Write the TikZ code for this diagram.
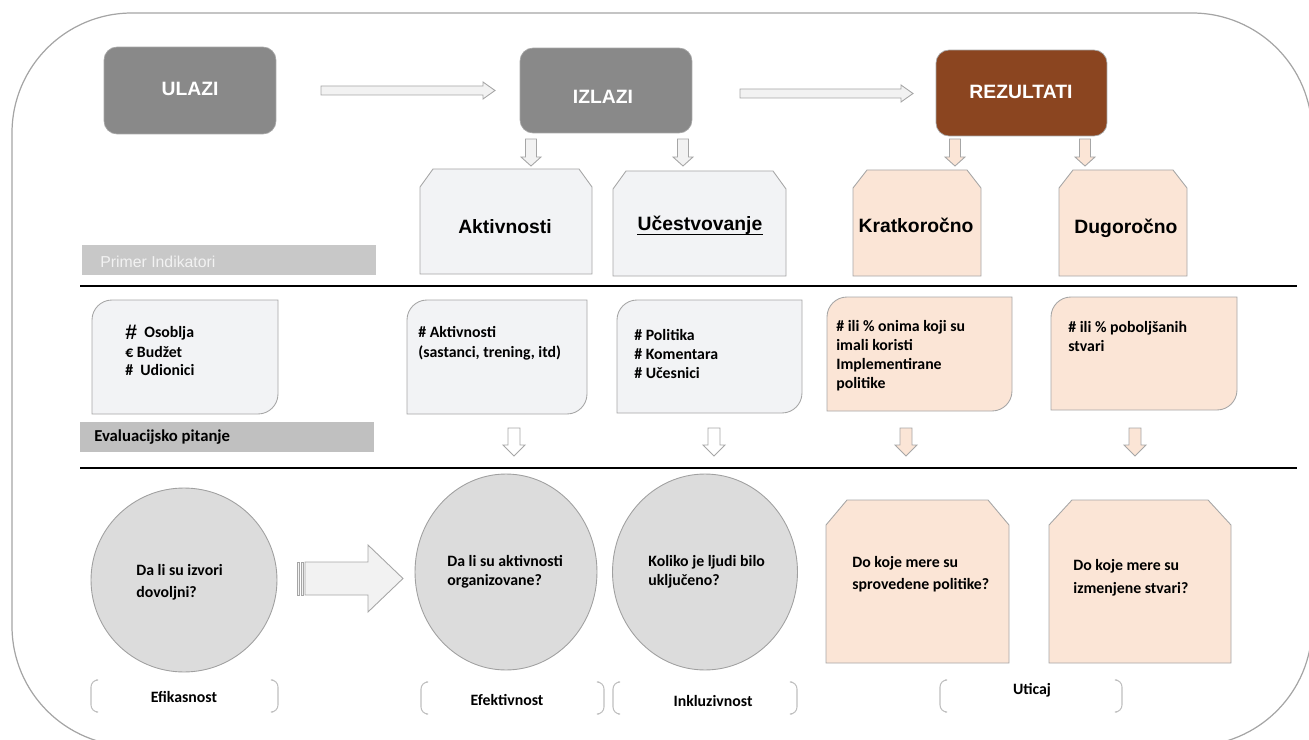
\documentclass[tikz,border=0pt]{standalone}
\usepackage{fontspec}
\setmainfont{Liberation Sans}
\newfontfamily\carl{Carlito}
\usetikzlibrary{shapes.geometric}
\definecolor{boxgray}{RGB}{137,137,137}
\definecolor{brownbox}{RGB}{139,69,32}
\definecolor{lightfill}{RGB}{242,243,245}
\definecolor{peach}{RGB}{251,229,214}
\definecolor{outl}{RGB}{166,166,166}
\definecolor{circfill}{RGB}{220,220,220}
\definecolor{circline}{RGB}{160,160,160}
\definecolor{barA}{RGB}{200,200,200}
\definecolor{barB}{RGB}{192,192,192}
\definecolor{framec}{RGB}{165,165,165}
\definecolor{arrfill}{RGB}{242,242,242}
\definecolor{brackc}{RGB}{190,190,190}
% block arrow to the right: style, x1, x2, yc, shaft half, head half, head length
\newcommand\blockR[7][]{\draw[#1] (#2,#4-#5) -- (#3-#7,#4-#5) -- (#3-#7,#4-#6) -- (#3,#4) -- (#3-#7,#4+#6) -- (#3-#7,#4+#5) -- (#2,#4+#5) -- cycle;}
% block arrow down: style, xc, y1, y2, shaft half, head half, head length
\newcommand\blockD[7][]{\draw[#1] (#2-#5,#3) -- (#2+#5,#3) -- (#2+#5,#4-#7) -- (#2+#6,#4-#7) -- (#2,#4) -- (#2-#6,#4-#7) -- (#2-#5,#4-#7) -- cycle;}
% snipped top corners box: style, x1,y1,x2,y2,cx,cy
\newcommand\snipbox[7][]{\draw[#1] (#2,#5) -- (#2,#3+#7) -- (#2+#6,#3) -- (#4-#6,#3) -- (#4,#3+#7) -- (#4,#5) -- cycle;}
% diagonal rounded box: style, x1,y1,x2,y2,r
\newcommand\rdiag[6][]{\draw[#1] (#2,#3+#6) arc[start angle=180,end angle=270,radius=#6] -- (#4,#3) -- (#4,#5-#6) arc[start angle=0,end angle=90,radius=#6] -- (#2,#5) -- cycle;}
% brackets: x left, x right, y1, y2
\newcommand\brackets[4]{%
\draw[brackc, line width=0.6pt, rounded corners=4pt] (#1+5,#3) -- (#1,#3) -- (#1,#4) -- (#1+5,#4);
\draw[brackc, line width=0.6pt, rounded corners=4pt] (#2-5,#3) -- (#2,#3) -- (#2,#4) -- (#2-5,#4);}
\begin{document}
\begin{tikzpicture}[x=0.02cm,y=-0.02cm,
  topbox/.style={rounded corners=0.26cm, draw=outl, line width=0.4pt, inner sep=0},
  toptext/.style={font=\fontsize{11}{13}\selectfont\bfseries, text=white},
  hd/.style={font=\fontsize{11}{13}\selectfont\bfseries},
  ct/.style={font=\carl\bfseries\fontsize{9}{10.8}\selectfont, align=left, anchor=west, inner sep=0},
  lab/.style={font=\carl\bfseries\fontsize{9}{10.8}\selectfont, inner sep=0},
  graybox/.style={fill=lightfill, draw=outl, line width=0.5pt},
  peachbox/.style={fill=peach, draw=outl, line width=0.5pt},
  grayarrow/.style={fill=arrfill, draw=outl, line width=0.5pt},
  peacharrow/.style={fill=peach, draw=outl, line width=0.5pt},
  whitearrow/.style={fill=white, draw=outl, line width=0.5pt},
  circ/.style={ellipse, fill=circfill, draw=circline, line width=0.5pt, inner sep=0},
  sep/.style={line width=1.7pt, black}
]
\useasboundingbox (0,0) rectangle (1309,740);
\begin{scope}
\clip (0,0) rectangle (1309,740);
\draw[framec, line width=0.7pt, rounded corners=2.4cm] (12,13) rectangle (1312,746);
\end{scope}

% top boxes
\node[topbox, fill=boxgray, minimum width=3.44cm, minimum height=1.74cm] (ulazi) at (190,90.5) {};
\node[toptext] (ulaziT) at (190,89) {ULAZI};
\node[topbox, fill=boxgray, minimum width=3.44cm, minimum height=1.70cm] (izlazi) at (606,90.5) {};
\node[toptext] (izlaziT) at (603,97) {IZLAZI};
\node[topbox, fill=brownbox, minimum width=3.42cm, minimum height=1.72cm] (rez) at (1021.5,93) {};
\node[toptext] (rezT) at (1021,92) {REZULTATI};

% horizontal arrows
\blockR[grayarrow]{321}{495}{90.5}{4.5}{8.5}{12}
\blockR[grayarrow]{740}{913}{93.5}{4.5}{8.5}{12}

% small down arrows
\blockD[grayarrow]{531}{139}{166}{5.5}{10}{9}
\blockD[grayarrow]{683}{139}{166}{5.5}{10}{9}
\blockD[peacharrow]{955}{139}{166}{5.5}{10}{9}
\blockD[peacharrow]{1085}{139}{166}{5.5}{10}{9}

% category boxes
\snipbox[graybox]{420}{169}{592}{274}{13}{18}
\node[hd] (akt) at (505,227) {Aktivnosti};
\snipbox[graybox]{613}{171}{786}{276}{13}{18}
\node[hd, inner sep=0] (uce) at (700,225) {Učestvovanje};
\draw[line width=0.6pt] ([yshift=-2.2pt]uce.base west) -- ([yshift=-2.2pt]uce.base east);
\snipbox[peachbox]{853}{170}{981}{276}{14}{18}
\node[hd] (krat) at (916,225) {Kratkoročno};
\snipbox[peachbox]{1059}{170}{1187}{276}{14}{18}
\node[hd] (dug) at (1126,228) {Dugoročno};

% primer bar
\fill[barA] (82,245) rectangle (376,275);
\node[font=\fontsize{9}{11}\selectfont, text=white!95!black, anchor=west, inner sep=0] (primer) at (100,262) {Primer Indikatori};

\draw[sep] (80,286) -- (1297,286);

% indicator boxes
\rdiag[graybox]{92}{300}{278}{414}{20}
\node[anchor=west, inner sep=0, font=\bfseries\fontsize{12}{12}\selectfont] (hs1) at (125,332) {\#};
\node[ct] (in1) at (144,333) {Osoblja};
\node[ct] (in2) at (125,352) {€ Budžet};
\node[ct] (in3) at (125,370) {\# ~Udionici};

\rdiag[graybox]{407}{300}{587}{414}{20}
\node[ct, font=\carl\bfseries\fontsize{9}{11.4}\selectfont] (ind2) at (418,343) {\# Aktivnosti\\(sastanci, trening, itd)};

\rdiag[graybox]{617}{300}{802}{413}{20}
\node[ct] (ind3) at (634,354) {\# Politika\\\# Komentara\\\# Učesnici};

\rdiag[peachbox]{827}{297}{1012}{411}{20}
\node[ct] (ind4) at (836,355.5) {\# ili \% onima koji su\\imali koristi\\Implementirane\\politike};

\rdiag[peachbox]{1051}{297}{1237}{410}{20}
\node[ct] (ind5) at (1068,336.5) {\# ili \% poboljšanih\\stvari};

% evaluation bar
\fill[barB] (80,422) rectangle (374,452);
\node[lab, anchor=west, font=\carl\bfseries\fontsize{9.5}{11}\selectfont] (eval) at (94,437) {Evaluacijsko pitanje};

% lower down arrows
\blockD[whitearrow]{514}{428}{456}{6}{11}{11}
\blockD[whitearrow]{714}{428}{456}{6}{11}{11}
\blockD[peacharrow]{906}{428}{456}{6}{11}{11}
\blockD[peacharrow]{1135}{428}{456}{6}{11}{11}

\draw[sep] (80,468) -- (1297,468);

% circles
\node[circ, minimum width=3.72cm, minimum height=3.68cm] (c1) at (184,580) {};
\node[ct, font=\carl\bfseries\fontsize{9}{12.5}\selectfont] (c1t) at (136,582) {Da li su izvori\\dovoljni?};
\node[circ, minimum width=3.64cm, minimum height=3.92cm] (c2) at (506,572) {};
\node[ct] (c2t) at (447,571.5) {Da li su aktivnosti\\organizovane?};
\node[circ, minimum width=3.70cm, minimum height=3.92cm] (c3) at (705,572) {};
\node[ct] (c3t) at (648,571.5) {Koliko je ljudi bilo\\uključeno?};

% big arrow
\fill[arrfill] (297,562) rectangle (299.5,595);
\draw[outl, line width=0.5pt] (297,562) rectangle (299.5,595);
\fill[arrfill] (301,562) rectangle (303.5,595);
\draw[outl, line width=0.5pt] (301,562) rectangle (303.5,595);
\blockR[grayarrow]{305}{403}{578.5}{16.5}{33.5}{35}

% lower peach boxes
\snipbox[peachbox]{826}{500}{1009}{663}{21}{25}
\node[ct, font=\carl\bfseries\fontsize{9}{12.5}\selectfont] (b4t) at (852,574) {Do koje mere su\\sprovedene politike?};
\snipbox[peachbox]{1049}{500}{1231}{663}{23}{25}
\node[ct, font=\carl\bfseries\fontsize{9}{13}\selectfont] (b5t) at (1073,577.5) {Do koje mere su\\izmenjene stvari?};

% brackets and labels
\brackets{91}{278}{680}{712}
\node[lab] (efi) at (184,697) {Efikasnost};
\brackets{421}{604}{682}{714}
\node[lab] (efe) at (507,700) {Efektivnost};
\brackets{613}{797}{682}{714}
\node[lab] (ink) at (713,701) {Inkluzivnost};
\brackets{940}{1122}{680}{712}
\node[lab] (uti) at (1032,690) {Uticaj};
\end{tikzpicture}
\end{document}
